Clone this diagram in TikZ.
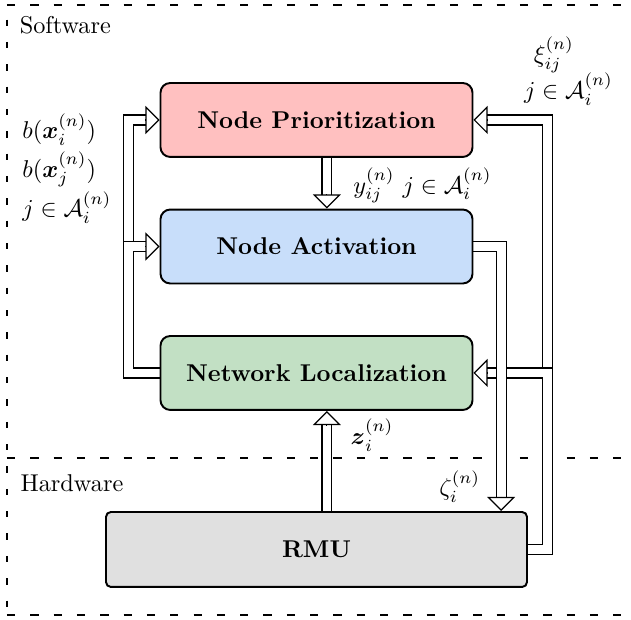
\documentclass[tikz,border=0pt]{standalone}
\usepackage{amsmath,amssymb}
\usepackage{xcolor}
\usepackage{tikz}
\usetikzlibrary{arrows.meta,positioning,calc,backgrounds}
\definecolor{prioRed}{RGB}{255,192,192}
\definecolor{actBlue}{RGB}{200,222,250}
\definecolor{locGreen}{RGB}{194,224,196}
\definecolor{rmuGray}{RGB}{224,224,224}
\newcommand{\BlockNode}[4]{%
  \node[draw, line width=0.8pt, rounded corners=4pt, fill=#3, minimum width=4.515cm, minimum height=1.07cm, font=\bfseries] (#1) at #4 {#2};
}
\newcommand{\FlowTip}[2]{%
  \draw[flowtip] ($(#1)+(#2)$) -- (#1);
}
\tikzset{
  flow/.style={double, double distance=3.6pt, line width=0.5pt, shorten >=3pt},
  flowtip/.style={line width=0.5pt, -{Triangle[length=5.8pt, width=11.5pt, fill=white]}},
  hdash/.style={line width=0.8pt, dash pattern=on 3.4pt off 6.2pt},
  vdash/.style={line width=0.6pt, dash pattern=on 2.6pt off 6.6pt, dash phase=-6pt},
}

\begin{document}
\begin{tikzpicture}
  \useasboundingbox (0,0) rectangle (9.131,-8.971);
  \BlockNode{prio}{Node Prioritization}{prioRed}{(4.58,-1.736)}
  \BlockNode{act}{Node Activation}{actBlue}{(4.58,-3.567)}
  \BlockNode{loc}{Network Localization}{locGreen}{(4.58,-5.397)}
  \node[draw, line width=0.8pt, rounded corners=2pt, fill=rmuGray, minimum width=6.092cm, minimum height=1.085cm, font=\bfseries] (rmu) at (4.58,-7.951) {RMU};

  \coordinate (actin) at ([xshift=0.15cm]act.north);
  \coordinate (prioout) at ([xshift=0.15cm]prio.south);
  \coordinate (locin) at ([xshift=0.15cm]loc.south);
  \coordinate (rmuout) at ([xshift=0.15cm]rmu.north);
  \coordinate (actout) at ([xshift=0.40cm]act.east);
  \coordinate (rmuin) at (actout |- rmu.north);

  \begin{scope}[on background layer]
    % software / hardware frame
    \draw[hdash] (0.101,-0.072) -- (9.131,-0.072);
    \draw[hdash] (0.101,-6.627) -- (9.131,-6.627);
    \draw[hdash] (0.101,-8.899) -- (9.131,-8.899);
    \draw[vdash] (0.101,-0.072) -- (0.101,-8.899);
    % feedback loops
    \draw[flow] (loc.west) -- ++(-0.448,0) |- (prio.west);
    \draw[flow] (loc.west) -- ++(-0.448,0) |- (act.west);
    \draw[flow] (rmu.east) -- ++(0.285,0) |- (prio.east);
    \draw[flow] (rmu.east) -- ++(0.285,0) |- (loc.east);
    \draw[flow] (act.east) -- (actout) -- (rmuin);
    \draw[flow] (prioout) -- (actin);
    \draw[flow] (rmuout) -- (locin);
    % arrow heads
    \FlowTip{prio.west}{-5.8pt,0}
    \FlowTip{act.west}{-5.8pt,0}
    \FlowTip{prio.east}{5.8pt,0}
    \FlowTip{loc.east}{5.8pt,0}
    \FlowTip{rmuin}{0,5.8pt}
    \FlowTip{actin}{0,5.8pt}
    \FlowTip{locin}{0,-5.8pt}
  \end{scope}

  \node[anchor=base west, inner sep=0] (sw) at (0.279,-0.478) {Software};
  \node[anchor=base west, inner sep=0] (hw) at (0.291,-7.105) {Hardware};
  \node (ylab) at (6.114,-2.684) {$y_{ij}^{(n)}\ j\in\mathcal{A}_i^{(n)}$};
  \node (zlab) at (5.383,-6.294) {$\boldsymbol{z}_i^{(n)}$};
  \node (zetalab) at (6.653,-7.042) {$\zeta_i^{(n)}$};
  \node (xilab) at (8.016,-0.790) {$\xi_{ij}^{(n)}$};
  \node (xiset) at (8.226,-1.288) {$j\in\mathcal{A}_i^{(n)}$};
  \node[align=left, anchor=west, inner sep=0] (blab) at (0.318,-2.44)
    {$b(\boldsymbol{x}_i^{(n)})$\\[1.5pt]$b(\boldsymbol{x}_j^{(n)})$\\[0.8pt]$j\in\mathcal{A}_i^{(n)}$};
\end{tikzpicture}
\end{document}
